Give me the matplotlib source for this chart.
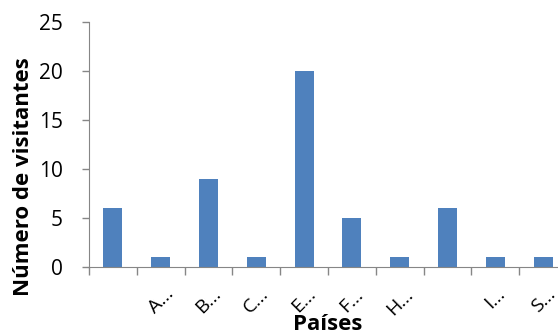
import matplotlib
matplotlib.use('Agg')
import matplotlib.pyplot as plt
import numpy as np

plt.rcParams['font.family'] = ['Open Sans', 'DejaVu Sans']

paises = ['', 'A…', 'B…', 'C…', 'E…', 'F…', 'H…', '', 'I…', 'S…']
visitantes = [6, 1, 9, 1, 20, 5, 1, 6, 1, 1]

bar_color = '#4F81BD'
axis_color = '#868686'

fig = plt.figure(figsize=(5.58, 3.35), dpi=100)
# axes run a little past the right edge, as in the original
ax = fig.add_axes([89 / 558, 68 / 335, 478 / 558, 245 / 335])

x = np.arange(len(paises))
ax.bar(x, visitantes, width=0.4, color=bar_color, zorder=2)

ax.set_xlim(-0.5, len(paises) - 0.5)
ax.set_ylim(0, 25)
ax.set_yticks([0, 5, 10, 15, 20, 25])

# ticks between categories, labels at category centres
ax.set_xticks(np.arange(len(paises) + 1) - 0.5)
ax.set_xticklabels([])
ax.set_xticks(x, minor=True)
ax.set_xticklabels(paises, minor=True, rotation=45, ha='center', fontsize=14)
ax.tick_params(axis='x', which='minor', length=0, pad=13)
ax.tick_params(axis='x', which='major', length=6, color=axis_color, width=1)
ax.tick_params(axis='y', length=5, color=axis_color, width=1, labelsize=15, pad=14)

for side in ['top', 'right']:
    ax.spines[side].set_visible(False)
for side in ['left', 'bottom']:
    ax.spines[side].set_color(axis_color)

fig.text(24 / 558, 1 - 177 / 335, 'Número de visitantes', rotation=90,
         ha='center', va='center', fontsize=16, fontweight='bold')
fig.text(328 / 558, 1 - 324 / 335, 'Países', ha='center', va='center',
         fontsize=16, fontweight='bold')

fig.savefig('out.png', dpi=100)
